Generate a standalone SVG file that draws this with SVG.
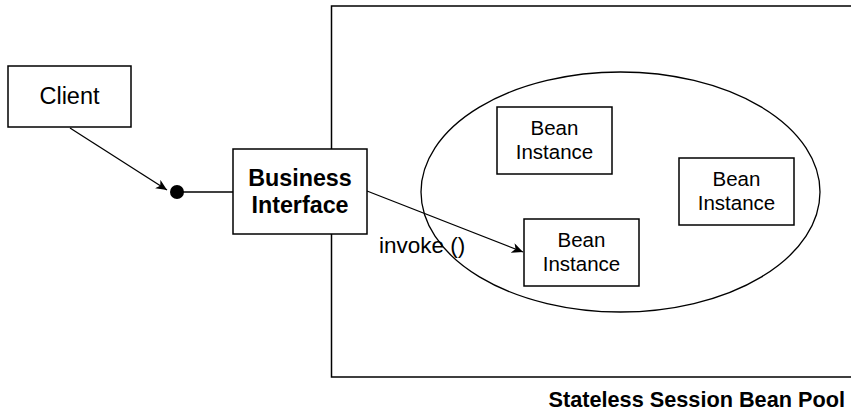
<svg xmlns="http://www.w3.org/2000/svg" width="851" height="413" viewBox="0 0 851 413">
<style>
.box{fill:#fff;stroke:#000;stroke-width:1.5}
.t{font-family:"Liberation Sans",Arial,sans-serif;fill:#000;text-anchor:middle}
.b{font-weight:bold}
.bi{font-size:20.5px}
.ln{fill:none;stroke:#000;stroke-width:1.3}
</style>
<defs>
<marker id="ah" markerWidth="12" markerHeight="10" refX="11" refY="5" orient="auto" markerUnits="userSpaceOnUse">
<path d="M0,0 L11,5 L0,10 L3,5 Z" fill="#000"/>
</marker>
</defs>
<g id="pool">
<path d="M852,6 H331.5 V377 H852" fill="none" stroke="#000" stroke-width="1.5"/>
<text class="t b" x="845" y="407" style="text-anchor:end" font-size="21.7">Stateless Session Bean Pool</text>
</g>
<g id="ellipse">
<ellipse cx="620.5" cy="192" rx="199.5" ry="120" fill="none" stroke="#000" stroke-width="1.3"/>
</g>
<g id="connectors">
<line class="ln" x1="70" y1="128" x2="167" y2="190" marker-end="url(#ah)"/>
<line class="ln" x1="177" y1="192" x2="233" y2="192"/>
<line class="ln" x1="367" y1="191" x2="523" y2="252" marker-end="url(#ah)"/>
<circle cx="177" cy="192" r="7" fill="#000"/>
<text class="t" x="379" y="253" style="text-anchor:start" font-size="22.5">invoke ()</text>
</g>
<g id="client">
<rect class="box" x="8" y="66" width="123" height="61"/>
<text class="t" x="69.5" y="104" font-size="23.5">Client</text>
</g>
<g id="business-interface">
<rect class="box" x="233" y="149" width="134" height="85"/>
<text class="t b" x="300" y="186" font-size="23.3">Business</text>
<text class="t b" x="300" y="213" font-size="23.3">Interface</text>
</g>
<g id="bean1">
<rect class="box" x="497" y="107" width="115" height="67"/>
<text class="t bi" x="554.5" y="135">Bean</text>
<text class="t bi" x="554.5" y="159">Instance</text>
</g>
<g id="bean2">
<rect class="box" x="679" y="158" width="115" height="67"/>
<text class="t bi" x="736.5" y="186">Bean</text>
<text class="t bi" x="736.5" y="210">Instance</text>
</g>
<g id="bean3">
<rect class="box" x="524" y="219" width="115" height="67"/>
<text class="t bi" x="581.5" y="247">Bean</text>
<text class="t bi" x="581.5" y="271">Instance</text>
</g>
</svg>
